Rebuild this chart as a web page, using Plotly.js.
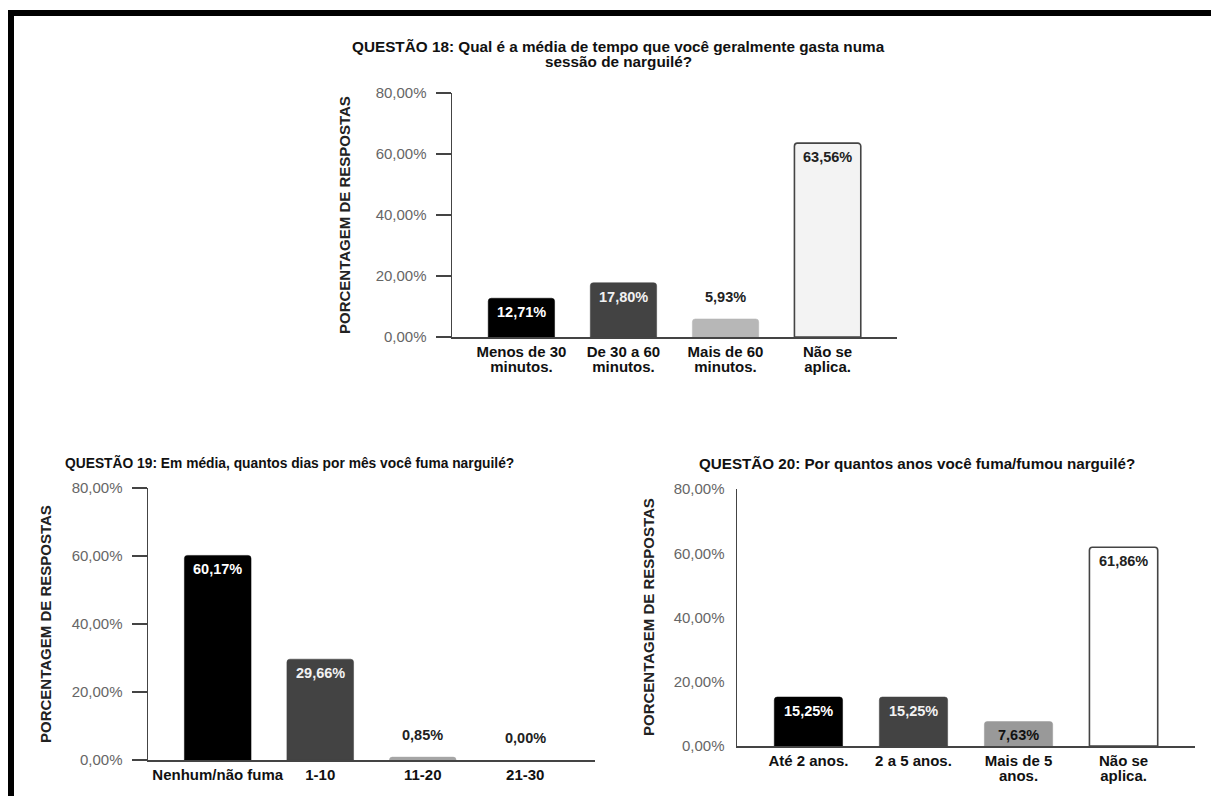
<!DOCTYPE html>
<html>
<head>
<meta charset="utf-8">
<script src="https://cdn.plot.ly/plotly-3.0.1.min.js"></script>
<style>
  html, body { margin: 0; padding: 0; background: #ffffff; }
  #chart { width: 1211px; height: 796px; }
</style>
</head>
<body>
<div id="chart"></div>
<script>
// Questão 18 – tempo médio por sessão
const q18TitleLines = ['QUESTÃO 18: Qual é a média de tempo que você geralmente gasta numa', 'sessão de narguilé?'];
const q18Categories = ['Menos de 30<br>minutos.', 'De 30 a 60<br>minutos.', 'Mais de 60<br>minutos.', 'Não se<br>aplica.'];
const q18Values = [12.71, 17.80, 5.93, 63.56];

// Questão 19 – dias por mês
const q19Title = 'QUESTÃO 19: Em média, quantos dias por mês você fuma narguilé?';
const q19Categories = ['Nenhum/não fuma', '1-10', '11-20', '21-30'];
const q19Values = [60.17, 29.66, 0.85, 0.00];

// Questão 20 – anos de uso
const q20Title = 'QUESTÃO 20: Por quantos anos você fuma/fumou narguilé?';
const q20Categories = ['Até 2 anos.', '2 a 5 anos.', 'Mais de 5<br>anos.', 'Não se<br>aplica.'];
const q20Values = [15.25, 15.25, 7.63, 61.86];

const yAxisTitle = 'PORCENTAGEM DE RESPOSTAS';
const yTickValues = [0, 20, 40, 60, 80];

const FONT = 'Arial, "Liberation Sans", sans-serif';
const W = 1211, H = 796;
const px = x => x / W;
const py = y => 1 - y / H;

const fmt = v => v.toFixed(2).replace('.', ',') + '%';
const yTickText = yTickValues.map(fmt);

const panels = [
  {
    cats: q18Categories, vals: q18Values, xa: 'x', ya: 'y',
    fill: ['#000000', '#434343', '#b7b7b7', '#f3f3f3'],
    line: ['#000000', '#434343', '#b7b7b7', '#444444'],
    lineW: [0.5, 0.5, 0.5, 1.6],
    textCol: ['#ffffff', '#f2f2f2', '#222222', '#222222'],
    xDom: [px(452), px(897)], yDom: [py(337), py(93)], ticks: true
  },
  {
    cats: q19Categories, vals: q19Values, xa: 'x2', ya: 'y2',
    fill: ['#000000', '#434343', '#a5a5a5', '#ffffff'],
    line: ['#000000', '#434343', '#a5a5a5', '#ffffff'],
    lineW: [0.5, 0.5, 0.5, 0],
    textCol: ['#ffffff', '#f2f2f2', '#222222', '#222222'],
    xDom: [px(148), px(595)], yDom: [py(760), py(488)], ticks: true
  },
  {
    cats: q20Categories, vals: q20Values, xa: 'x3', ya: 'y3',
    fill: ['#000000', '#434343', '#999999', '#ffffff'],
    line: ['#000000', '#434343', '#999999', '#444444'],
    lineW: [0.5, 0.5, 0.5, 1.6],
    textCol: ['#ffffff', '#f2f2f2', '#111111', '#222222'],
    xDom: [px(737), px(1195)], yDom: [py(746), py(489)], ticks: false
  }
];

const data = panels.map(p => ({
  type: 'bar',
  x: p.cats,
  y: p.vals,
  xaxis: p.xa,
  yaxis: p.ya,
  marker: {
    color: p.fill,
    line: { color: p.line, width: p.lineW },
    cornerradius: 3
  },
  textposition: 'none',
  hoverinfo: 'skip',
  showlegend: false
}));

const annotations = [];

// value labels: inside near the top when the bar is tall enough, above it otherwise
panels.forEach(p => {
  p.vals.forEach((v, i) => {
    const inside = v >= 7;
    annotations.push({
      xref: p.xa, yref: p.ya,
      x: p.cats[i], y: v,
      text: '<b>' + fmt(v) + '</b>',
      showarrow: false,
      yanchor: 'middle',
      yshift: inside ? -14 : 22,
      font: { family: FONT, size: 14.5, color: inside ? p.textCol[i] : '#222222' }
    });
  });
});

// chart titles
function title(text, x, y, anchor, size) {
  annotations.push({
    xref: 'paper', yref: 'paper', x: px(x), y: py(y),
    xanchor: anchor, yanchor: 'middle',
    text: '<b>' + text + '</b>', showarrow: false,
    font: { family: FONT, size: size, color: '#111111' }
  });
}
title(q18TitleLines[0], 618, 47, 'center', 15.3);
title(q18TitleLines[1], 618, 62, 'center', 15.3);
title(q19Title, 63, 462, 'left', 13.8);
title(q20Title, 697, 463, 'left', 15.2);

// vertical axis titles
[[345, 215], [45, 624], [648, 617]].forEach(([x, y]) => {
  annotations.push({
    xref: 'paper', yref: 'paper', x: px(x), y: py(y),
    xanchor: 'center', yanchor: 'middle', textangle: -90,
    text: '<b>' + yAxisTitle + '</b>', showarrow: false,
    font: { family: FONT, size: 15, color: '#222222' }
  });
});

const layout = {
  width: W, height: H,
  margin: { l: 0, r: 0, t: 0, b: 0 },
  paper_bgcolor: '#ffffff',
  plot_bgcolor: 'rgba(0,0,0,0)',
  bargap: 0.35,
  showlegend: false,
  annotations: annotations,
  shapes: [
    // page frame (top and left rules)
    { type: 'rect', xref: 'paper', yref: 'paper', x0: px(8), x1: 1, y0: py(16), y1: py(10),
      fillcolor: '#000000', line: { width: 0 } },
    { type: 'rect', xref: 'paper', yref: 'paper', x0: px(8), x1: px(14), y0: 0, y1: py(10),
      fillcolor: '#000000', line: { width: 0 } }
  ]
};

panels.forEach((p, k) => {
  const sfx = k === 0 ? '' : String(k + 1);
  layout['xaxis' + sfx] = {
    domain: p.xDom,
    anchor: p.ya,
    type: 'category',
    range: [-0.68, 3.68],
    showline: true, linecolor: '#444444', linewidth: 1.5,
    ticks: '', showgrid: false, zeroline: false,
    tickfont: { family: FONT, size: 15, color: '#111111', weight: 'bold' },
    fixedrange: true
  };
  layout['yaxis' + sfx] = {
    domain: p.yDom,
    anchor: p.xa,
    range: [0, 80],
    tickmode: 'array',
    tickvals: yTickValues,
    ticktext: yTickText,
    showline: true, linecolor: '#444444', linewidth: 1.5,
    ticks: p.ticks ? 'outside' : '', ticklen: 15, tickcolor: '#444444', tickwidth: 1.5,
    ticklabelstandoff: p.ticks ? 6 : 8,
    showgrid: false, zeroline: false,
    tickfont: { family: FONT, size: 15, color: '#666666' },
    fixedrange: true
  };
});

Plotly.newPlot('chart', data, layout, { staticPlot: true, displayModeBar: false }).then(gd => {
  // tighter line spacing for two-line category labels
  gd.querySelectorAll('g.xtick text tspan.line, g.x2tick text tspan.line, g.x3tick text tspan.line')
    .forEach(t => {
      const dy = t.getAttribute('dy');
      if (dy && parseFloat(dy) > 0) t.setAttribute('dy', '1em');
    });
});
</script>
</body>
</html>
